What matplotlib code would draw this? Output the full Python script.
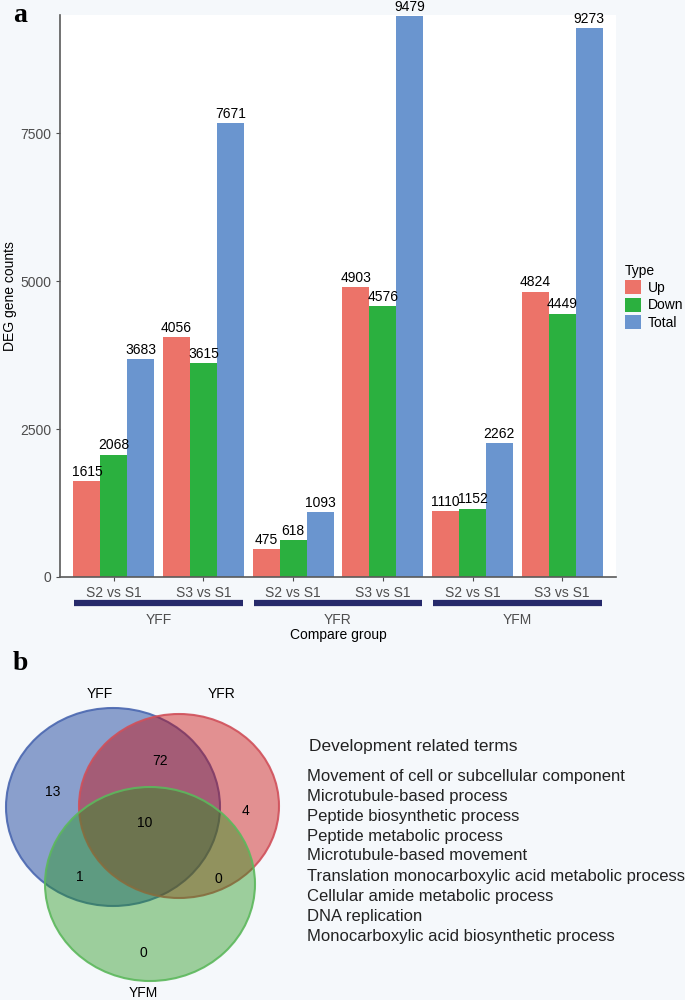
import numpy as np
import matplotlib.pyplot as plt
from matplotlib.patches import Ellipse
from matplotlib.transforms import blended_transform_factory

plt.rcParams['font.family'] = ['Liberation Sans', 'DejaVu Sans']

# Panel a data
tissues = ['YFF', 'YFR', 'YFM']
comparisons = ['S2 vs S1', 'S3 vs S1']
types = ['Up', 'Down', 'Total']
up = [1615, 4056, 475, 4903, 1110, 4824]
down = [2068, 3615, 618, 4576, 1152, 4449]
total = [3683, 7671, 1093, 9479, 2262, 9273]
yticks = [0, 2500, 5000, 7500]

# Panel b data
venn_sets = ['YFF', 'YFR', 'YFM']
venn_counts = {'100': 13, '010': 4, '001': 0, '110': 72, '101': 1, '011': 0, '111': 10}
terms = ['Movement of cell or subcellular component',
         'Microtubule-based process',
         'Peptide biosynthetic process',
         'Peptide metabolic process',
         'Microtubule-based movement',
         'Translation monocarboxylic acid metabolic process',
         'Cellular amide metabolic process',
         'DNA replication',
         'Monocarboxylic acid biosynthetic process']

bg = '#f5f8fb'
colors = ['#ec7369', '#2bb03f', '#6a95cf']
W, H = 685, 1000
fig = plt.figure(figsize=(W / 100, H / 100), dpi=100, facecolor=bg)

# ---------- panel a ----------
ax = fig.add_axes([60 / W, 1 - 577 / H, 556 / W, (577 - 15) / H])
ax.set_facecolor('white')
x = np.arange(len(up))
bw = 0.3
for i, (vals, c, lab) in enumerate(zip([up, down, total], colors, types)):
    bars = ax.bar(x + (i - 1) * bw, vals, bw, color=c, label=lab, edgecolor='none')
    for b, v in zip(bars, vals):
        ax.text(b.get_x() + b.get_width() / 2, v + 40, str(v), ha='center', va='bottom',
                fontsize=10, color='black')

ax.set_xlim(-0.6, 5.6)
ax.set_ylim(0, 9500)
ax.set_yticks(yticks)
ax.set_xticks(x)
ax.set_xticklabels(comparisons * 3)
ax.tick_params(axis='both', labelsize=10, labelcolor='#4d4d4d', color='#4d4d4d', length=3)
for s in ['top', 'right']:
    ax.spines[s].set_visible(False)
for s in ['left', 'bottom']:
    ax.spines[s].set_color('#5a5a5a')
    ax.spines[s].set_linewidth(1.2)
ax.set_ylabel('DEG gene counts', fontsize=10, labelpad=2)

trans = blended_transform_factory(ax.transData, ax.transAxes)
for g, name in enumerate(tissues):
    c = 2 * g + 0.5
    ax.plot([c - 0.94, c + 0.94], [-0.047, -0.047], transform=trans, color='#262a6b',
            lw=4.5, solid_capstyle='butt', clip_on=False)
    ax.text(c, -0.076, name, transform=trans, ha='center', va='center', fontsize=10,
            color='#4d4d4d')
ax.text(0.5, -0.104, 'Compare group', transform=ax.transAxes, ha='center', va='center',
        fontsize=10)

leg = ax.legend(title='Type', loc='upper left', bbox_to_anchor=(1.004, 0.57), frameon=False,
                fontsize=10, title_fontsize=10, handlelength=1.15, handleheight=1.15,
                handletextpad=0.5, labelspacing=0.2, borderpad=0)
leg._legend_box.align = 'left'

fig.text(13 / W, 1 - 16 / H, 'a', fontsize=20, fontweight='bold', family='Liberation Serif',
         va='center', ha='left')
fig.text(13 / W, 1 - 663 / H, 'b', fontsize=20, fontweight='bold', family='Liberation Serif',
         va='center', ha='left')

# ---------- panel b ----------
vx = fig.add_axes([0, 0, 1, 1], facecolor='none')
vx.set_xlim(0, W)
vx.set_ylim(H, 0)
vx.axis('off')
ell = [((113, 807), 214, 198, '#8a9fcc', 1.0, '#4a67b0'),
       ((179, 806), 200, 184, '#ca0000', 0.42, '#d0505a'),
       ((150, 884), 210, 194, '#219619', 0.42, '#5cb85c')]
for (cxy, w, h, fc, a, ec) in ell:
    vx.add_patch(Ellipse(cxy, w, h, facecolor=fc, alpha=a, edgecolor='none'))
    vx.add_patch(Ellipse(cxy, w, h, facecolor='none', edgecolor=ec, lw=1.5, alpha=0.9))

label_pos = [(100, 694), (222, 694), (143, 993)]
for name, (lx, ly) in zip(venn_sets, label_pos):
    vx.text(lx, ly, name, ha='center', va='center', fontsize=10)
count_pos = {'100': (53, 792), '010': (246, 811), '001': (143, 953), '110': (160, 761),
             '101': (80, 877), '011': (218, 879), '111': (145, 823)}
for k, v in venn_counts.items():
    px, py = count_pos[k]
    vx.text(px, py, str(v), ha='center', va='center', fontsize=10)

vx.text(309, 746, 'Development related terms', ha='left', va='center', fontsize=12.5,
        color='#222222')
for i, t in enumerate(terms):
    vx.text(307, 776 + 20 * i, t, ha='left', va='center', fontsize=12, color='#222222')

fig.savefig('out.png', dpi=100, facecolor=bg)
